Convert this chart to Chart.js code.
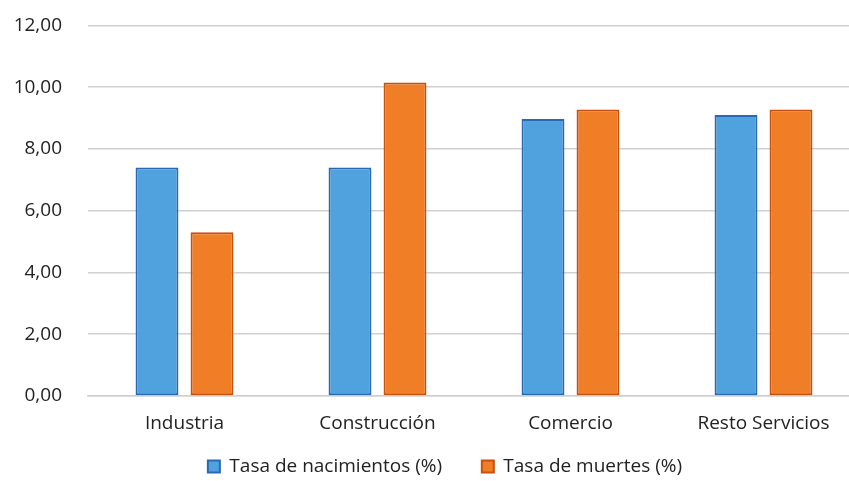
<!DOCTYPE html>
<html>
<head>
<meta charset="utf-8">
<script src="https://cdn.jsdelivr.net/npm/chart.js@4.4.0/dist/chart.umd.min.js"></script>
<style>
  html, body { margin: 0; padding: 0; background: #fff; overflow: hidden; }
  #wrap { width: 890px; height: 498px; margin-top: -12px; position: relative; }
</style>
</head>
<body>
<div id="wrap"><canvas id="chart"></canvas></div>
<script>
const categories = ["Industria", "Construcción", "Comercio", "Resto Servicios"];
const nacimientos = [7.40, 7.40, 8.97, 9.10];
const muertes = [5.30, 10.15, 9.28, 9.28];
const yTicks = [0, 2, 4, 6, 8, 10, 12];

const fontFamily = "'Open Sans', 'Noto Sans', sans-serif";

// nudge the legend a bit to the right, like the original
const legendShift = {
  id: 'legendShift',
  afterLayout(chart) {
    if (chart.legend) {
      chart.legend.left += 15;
      chart.legend.right += 15;
    }
  }
};

new Chart(document.getElementById('chart'), {
  type: 'bar',
  data: {
    labels: categories,
    datasets: [
      {
        label: 'Tasa de nacimientos (%)',
        data: nacimientos,
        backgroundColor: '#50a2df',
        borderColor: '#2a68b3',
        borderWidth: 2,
        borderSkipped: false
      },
      {
        label: 'Tasa de muertes (%)',
        data: muertes,
        backgroundColor: '#f07e27',
        borderColor: '#c8500f',
        borderWidth: 2,
        borderSkipped: false
      }
    ]
  },
  plugins: [legendShift],
  options: {
    responsive: true,
    maintainAspectRatio: false,
    animation: false,
    categoryPercentage: 0.57,
    barPercentage: 0.78,
    layout: { padding: { top: 2, right: 30, left: 0, bottom: 0 } },
    plugins: {
      tooltip: { enabled: false },
      legend: {
        position: 'bottom',
        labels: {
          boxWidth: 12,
          boxHeight: 12,
          padding: 20,
          color: '#222',
          font: { family: fontFamily, size: 19 },
          // wider gap between the two legend entries
          generateLabels: (chart) => {
            const items = Chart.defaults.plugins.legend.labels.generateLabels(chart);
            items[0].text = items[0].text + '    ';
            return items;
          }
        }
      }
    },
    scales: {
      x: {
        grid: { display: false, drawTicks: false },
        border: { color: '#d0d0d0', width: 1.5 },
        afterFit: (scale) => { scale.height = 41; },
        ticks: { color: '#222', padding: 16, font: { family: fontFamily, size: 19 } }
      },
      y: {
        min: 0,
        max: 12,
        afterBuildTicks: (scale) => { scale.ticks = yTicks.map(v => ({ value: v })); },
        afterFit: (scale) => { scale.width = 88; },
        grid: { color: '#d0d0d0', lineWidth: 1.5, drawTicks: false },
        border: { display: false },
        ticks: {
          color: '#222',
          padding: 26,
          font: { family: fontFamily, size: 19 },
          callback: (v) => Number(v).toFixed(2).replace('.', ',')
        }
      }
    }
  }
});
</script>
</body>
</html>
